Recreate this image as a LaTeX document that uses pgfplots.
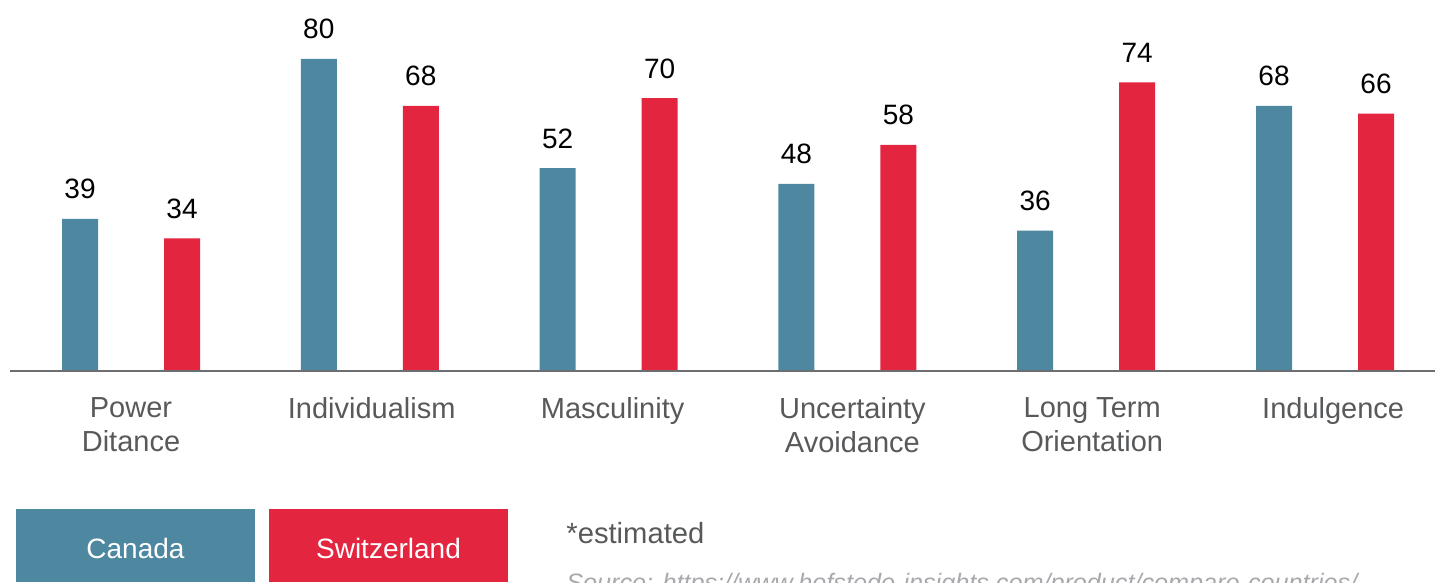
\documentclass[border=0pt]{standalone}
\usepackage{pgfplots}
\pgfplotsset{compat=1.18}
\usepackage{fontspec}
\setmainfont{Liberation Sans}
\definecolor{can}{HTML}{4E87A0}
\definecolor{sui}{HTML}{E32540}
\definecolor{lbl}{HTML}{58595B}
\definecolor{baseln}{HTML}{6D6E71}
\definecolor{src}{HTML}{A7A9AC}
\begin{document}
\begin{tikzpicture}
\begin{axis}[name=ax, at={(0,0)}, anchor=south west,
  width=717.5pt, height=291pt, scale only axis,
  xmin=-0.5486, xmax=5.4606, ymin=-54.10, ymax=95.13,
  axis line style={draw=none}, ytick=\empty,
  xtick={0,1.008,2.017,3.021,4.025,5.034}, major tick length=0pt,
  xticklabels={{Power\\Ditance},Individualism,Masculinity,{Uncertainty\\Avoidance},{Long Term\\Orientation},Indulgence},
  xticklabel style={align=center, anchor=north, inner sep=0pt, yshift=92.5pt, text=lbl, font=\fontsize{14.5}{17}\selectfont},
  ybar, bar width=18pt,
  nodes near coords,
  /pgf/number format/assume math mode=true,
  every node near coord/.append style={anchor=base, yshift=10pt, inner sep=0pt, font=\fontsize{14}{17}\selectfont, text=black},
  clip=false,
]
\addplot[draw=none, fill=can, bar shift=-25.5pt] coordinates {(0,39) (1,80) (2,52) (3,48) (4,36) (5,68)};
\addplot[draw=none, fill=sui, bar shift=25.5pt] coordinates {(0,34) (1,68) (2,70) (3,58) (4,74) (5,66)};
\draw[baseln, line width=1.3pt] (axis cs:-0.5067,0) -- (axis cs:5.4606,0);
\end{axis}
\begin{scope}[shift={(ax.south west)}]
\fill[can] (8pt,0) rectangle (127.5pt,36.5pt);
\fill[sui] (134.5pt,0) rectangle (254pt,36.5pt);
\node[anchor=base, text=white, font=\fontsize{14}{17}\selectfont, inner sep=0pt] at (67.75pt,12pt) {Canada};
\node[anchor=base, text=white, font=\fontsize{14}{17}\selectfont, inner sep=0pt] at (194.25pt,12pt) {Switzerland};
\node[anchor=base west, inner sep=0pt, text=lbl, font=\fontsize{14.6}{17}\selectfont] at (283pt,19.5pt) {*estimated};
\node[anchor=base west, inner sep=0pt, text=src, font=\fontsize{12.6}{15}\selectfont\itshape] at (283pt,-4.5pt) {Source: https://www.hofstede-insights.com/product/compare-countries/};
\end{scope}
\pgfresetboundingbox
\useasboundingbox (ax.south west) rectangle (ax.north east);
\end{tikzpicture}
\end{document}
